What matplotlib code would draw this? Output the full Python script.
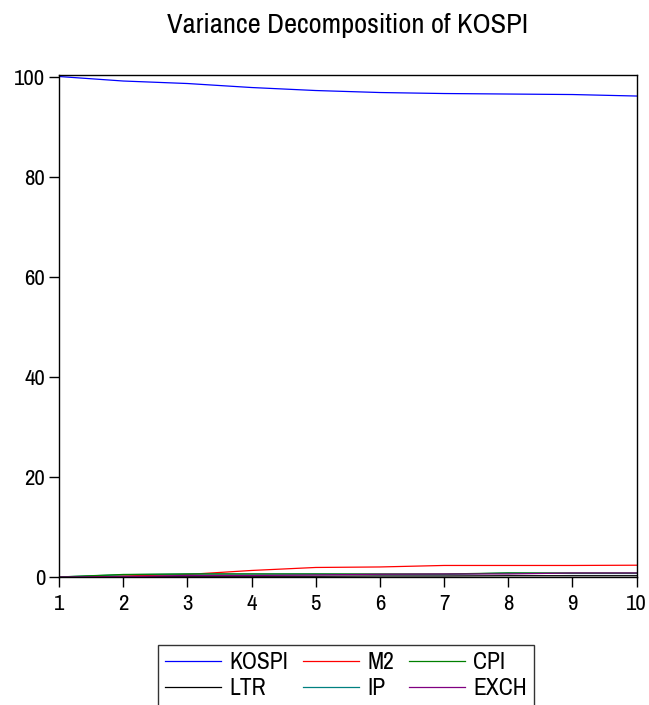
import matplotlib.pyplot as plt

plt.rcParams["font.family"] = ["Archivo Narrow", "Liberation Sans", "DejaVu Sans"]

# forecast horizon
periods = [1, 2, 3, 4, 5, 6, 7, 8, 9, 10]

# variance shares (percent)
kospi = [100.0, 99.1, 98.6, 97.8, 97.2, 96.8, 96.6, 96.5, 96.4, 96.1]
m2 = [0.0, 0.2, 0.5, 1.3, 1.9, 2.0, 2.3, 2.3, 2.3, 2.35]
cpi = [0.0, 0.5, 0.6, 0.6, 0.6, 0.6, 0.6, 0.8, 0.8, 0.8]
ltr = [0.0, 0.1, 0.15, 0.15, 0.15, 0.2, 0.2, 0.25, 0.25, 0.25]
ip = [0.0, 0.45, 0.6, 0.6, 0.6, 0.5, 0.5, 0.8, 0.7, 0.7]
exch = [0.0, 0.05, 0.3, 0.3, 0.4, 0.55, 0.6, 0.6, 0.8, 0.8]

series = [("KOSPI", kospi, "#0000ff"), ("LTR", ltr, "#000000"),
          ("M2", m2, "#ff0000"), ("IP", ip, "#008080"),
          ("CPI", cpi, "#008000"), ("EXCH", exch, "#800080")]

fig = plt.figure(figsize=(6.49, 7.05), dpi=100)
ax = fig.add_axes([0.091, 0.1816, 0.890, 0.712])

for name, vals, col in series:
    ax.plot(periods, vals, color=col, lw=0.9, label=name)

ax.set_xlim(1, 10)
ax.set_ylim(0, 100.3)
ax.set_xticks(periods)
ax.set_yticks([0, 20, 40, 60, 80, 100])
ax.tick_params(direction="out", length=7, width=1, labelsize=16.5)
ax.tick_params(axis="y", pad=3)
ax.tick_params(axis="x", pad=5)
for s in ax.spines.values():
    s.set_linewidth(1.0)

ax.set_title("Variance Decomposition of KOSPI", fontsize=20.5, pad=30)

leg = fig.legend(loc="upper center", bbox_to_anchor=(0.533, 0.085), ncol=3,
                 fontsize=17, frameon=True, fancybox=False, handlelength=2.4,
                 handletextpad=0.35, columnspacing=0.6, labelspacing=0.2,
                 borderpad=0.3, borderaxespad=0)
leg.get_frame().set_edgecolor("black")
leg.get_frame().set_linewidth(1.0)

fig.savefig("out.png", dpi=100)
